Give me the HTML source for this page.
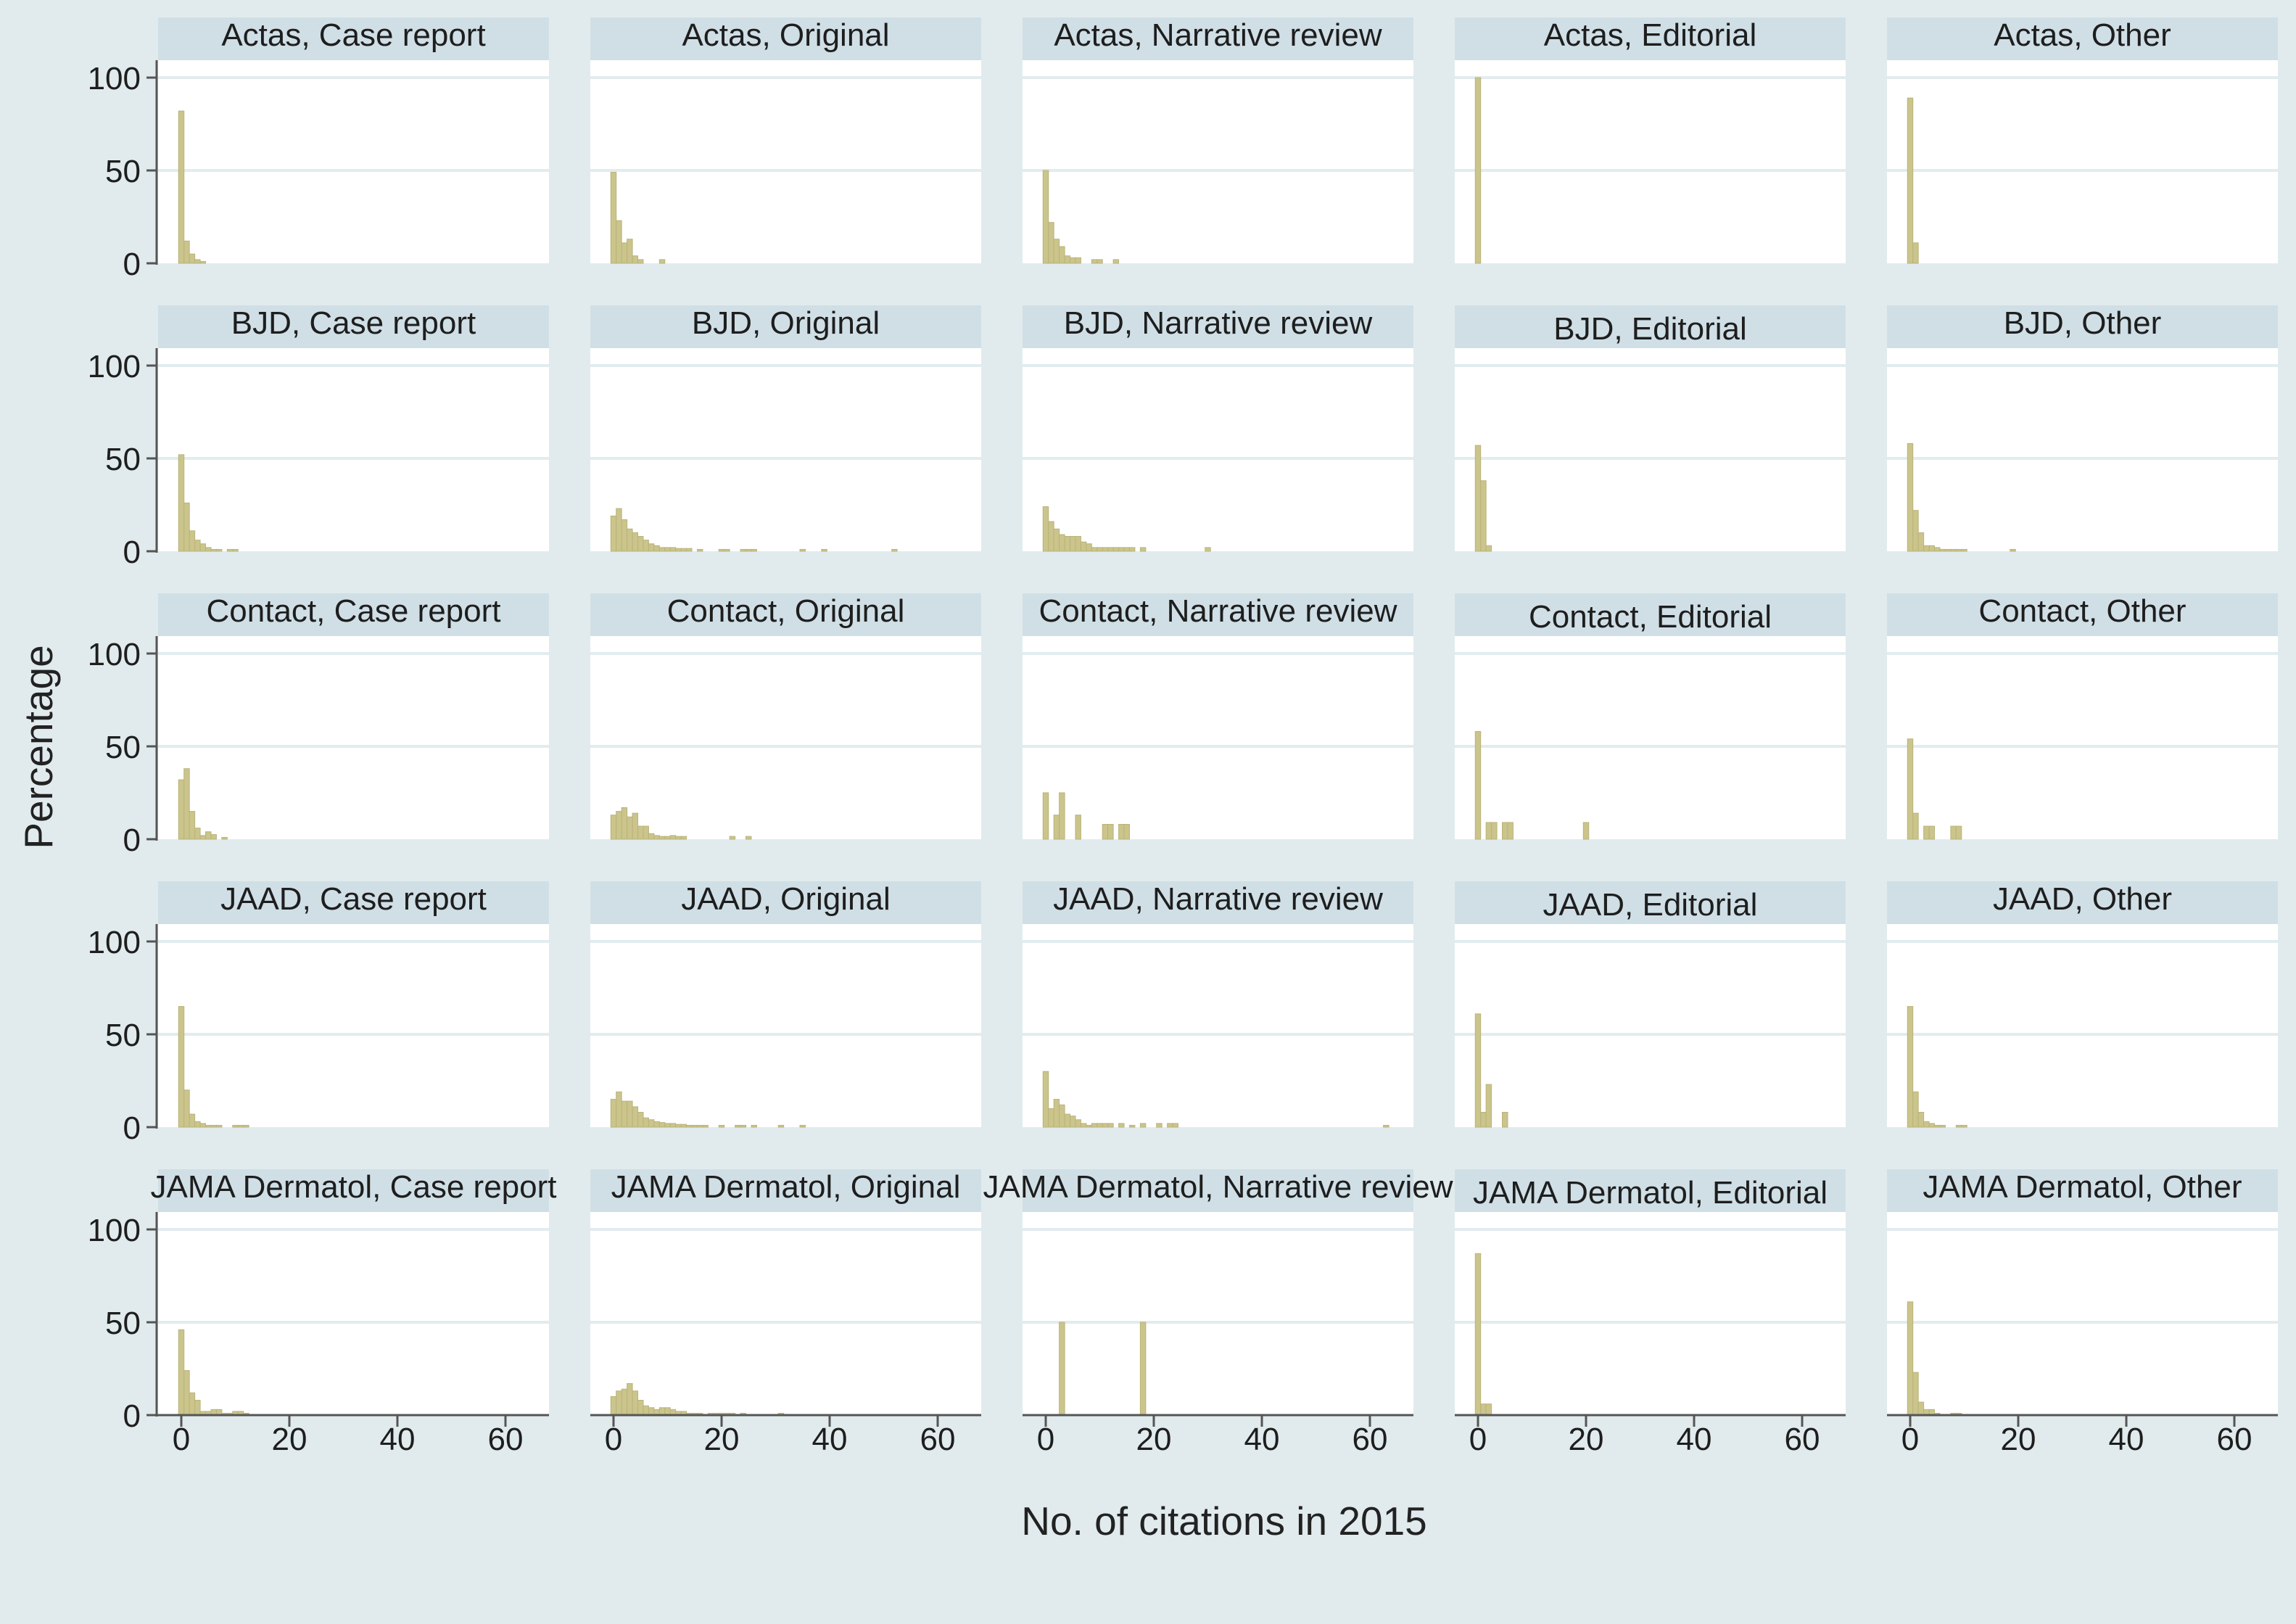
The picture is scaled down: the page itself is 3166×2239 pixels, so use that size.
<!DOCTYPE html>
<html><head><meta charset="utf-8">
<style>
html,body{margin:0;padding:0;background:#e1ebed;}
svg{display:block;font-family:"Liberation Sans",sans-serif;}
</style></head>
<body>
<svg id="chart" width="3166" height="2239" viewBox="0 0 3166 2239" xmlns="http://www.w3.org/2000/svg">
<rect x="0" y="0" width="3166" height="2239" fill="#e1ebed"/>
<text x="1688" y="2116" font-size="55" text-anchor="middle" fill="#222">No. of citations in 2015</text>
<text x="0" y="0" font-size="55" text-anchor="middle" fill="#222" transform="translate(72,1030) rotate(-90)">Percentage</text>
</svg>
<script>
const journals = ["Actas","BJD","Contact","JAAD","JAMA Dermatol"];
const types = ["Case report","Original","Narrative review","Editorial","Other"];
const yTicks = [0,50,100];
const xTicks = [0,20,40,60];
// percentages per citation count (index = no. of citations)
const actasCase = [82,12,5,2,1];
const actasOrig = [49,23,11,13,4,2,0,0,0,2];
const actasNarr = [50,22,13,9,4,3,3,0,0,2,2,0,0,2];
const actasEdit = [100];
const actasOther = [89,11];
const bjdCase = [52,26,11,6,4,2,1,1,0,1,1];
const bjdOrig = [19,23,17,12,10,8,6,4,3,2,2,2,1.5,1.5,1.5,0,1,0,0,0,1,1,0,0,1,1,1,0,0,0,0,0,0,0,0,1,0,0,0,1,0,0,0,0,0,0,0,0,0,0,0,0,1];
const bjdNarr = [24,16,12,9,8,8,8,5,4,2,2,2,2,2,2,2,2,0,2,0,0,0,0,0,0,0,0,0,0,0,2];
const bjdEdit = [57,38,3];
const bjdOther = [58,22,10,3,3,2,1,1,1,1,1,0,0,0,0,0,0,0,0,1];
const contactCase = [32,38,15,6,2,4,2.5,0,1];
const contactOrig = [13,15,17,12,14,7,7,3,2,1.5,1.5,2,1.5,1.5,0,0,0,0,0,0,0,0,1.5,0,0,1.5];
const contactNarr = [25,0,13,25,0,0,13,0,0,0,0,8,8,0,8,8];
const contactEdit = [58,0,9,9,0,9,9,0,0,0,0,0,0,0,0,0,0,0,0,0,9];
const contactOther = [54,14,0,7,7,0,0,0,7,7];
const jaadCase = [65,20,7,3,2,1,1,1,0,0,1,1,1];
const jaadOrig = [15,19,14,14,11,8,5,4,3,2.5,2,2,1.5,1.5,1,1,1,1,0,0,1,0,0,1,1,0,1,0,0,0,0,1,0,0,0,1];
const jaadNarr = [30,10,15,12,7,6,4,2,1,2,2,2,2,0,2,0,1,0,2,0,0,2,0,2,2,0,0,0,0,0,0,0,0,0,0,0,0,0,0,0,0,0,0,0,0,0,0,0,0,0,0,0,0,0,0,0,0,0,0,0,0,0,0,1];
const jaadEdit = [61,8,23,0,0,8];
const jaadOther = [65,19,8,3,2,1,1,0,0,1,1];
const jamaCase = [46,24,12,8,2,2,3,3,1,1,2,2,1];
const jamaOrig = [10,13,14,17,13,8,5,4,3,4,4,3,2,2,1,1,1,0,1,1,1,1,1,0,1,0,0,0,0,0,0,1];
const jamaNarr = [0,0,0,50,0,0,0,0,0,0,0,0,0,0,0,0,0,0,50];
const jamaEdit = [87,6,6];
const jamaOther = [61,23,7,3,3,1,0,0,1,1];
const panelData = [
  [actasCase,actasOrig,actasNarr,actasEdit,actasOther],
  [bjdCase,bjdOrig,bjdNarr,bjdEdit,bjdOther],
  [contactCase,contactOrig,contactNarr,contactEdit,contactOther],
  [jaadCase,jaadOrig,jaadNarr,jaadEdit,jaadOther],
  [jamaCase,jamaOrig,jamaNarr,jamaEdit,jamaOther]
];

const NS = "http://www.w3.org/2000/svg";
const svg = document.getElementById('chart');
const colLeft = c => 218 + c*596;
const W = 539;
const stripTop = r => 24 + r*397;
const zeroY = r => stripTop(r) + 339;
const yScale = (r,v) => zeroY(r) - v*2.56;
const xScale = (c,u) => colLeft(c) + 32 + u*7.45;
function mk(tag, attrs, parent){
  const e = document.createElementNS(NS, tag);
  for (const k in attrs) e.setAttribute(k, attrs[k]);
  (parent||svg).appendChild(e);
  return e;
}
for (let r=0;r<5;r++){
  for (let c=0;c<5;c++){
    const g = mk('g',{});
    
    
    const L = colLeft(c), T = stripTop(r);
    const strip = mk('rect',{x:L,y:T,width:W,height:59,fill:'#d0dfe6'},g);
    
    
    const plot = mk('rect',{x:L,y:T+59,width:W,height:zeroY(r)-T-59,fill:'#ffffff'},g);
    
    
    const off = (c===3 && r>0) ? 8 : 0;
    const t = mk('text',{x:L+W/2,y:T+39+off,'font-size':44,'text-anchor':'middle',fill:'#1e1e1e'},g);
    t.textContent = journals[r] + ', ' + types[c];
    
    
    [50,100].forEach(v=>{
      const gl = mk('line',{x1:L,x2:L+W,y1:yScale(r,v),y2:yScale(r,v),stroke:'#e2ecef','stroke-width':4},g);
      
      
    });
    const vals = panelData[r][c];
    vals.forEach((v,i)=>{
      if (v<=0) return;
      const x0 = xScale(c,i-0.5), x1 = xScale(c,i+0.5);
      const b = mk('rect',{x:x0,y:yScale(r,v),width:x1-x0,height:zeroY(r)-yScale(r,v),fill:'#cbc58c',stroke:'#b9b37a','stroke-width':1},g);
      
      
    });
    if (c===0){
      const ax = mk('line',{x1:216,x2:216,y1:T+59,y2:zeroY(r)+2,stroke:'#555','stroke-width':3},g);
      
      
      yTicks.forEach(v=>{
        const tk = mk('line',{x1:202,x2:216,y1:yScale(r,v),y2:yScale(r,v),stroke:'#555','stroke-width':3},g);
        
        
        const lb = mk('text',{x:194,y:yScale(r,v)+16,'font-size':44,'text-anchor':'end',fill:'#1e1e1e'},g);
        lb.textContent = v;
        
        
      });
    }
    if (r===4){
      const xa = mk('line',{x1:(c===0?202:L),x2:L+W,y1:zeroY(r),y2:zeroY(r),stroke:'#555','stroke-width':3},g);
      
      
      xTicks.forEach(u=>{
        const tk = mk('line',{x1:xScale(c,u),x2:xScale(c,u),y1:zeroY(r),y2:zeroY(r)+16,stroke:'#555','stroke-width':3},g);
        
        
        const lb = mk('text',{x:xScale(c,u),y:zeroY(r)+48,'font-size':44,'text-anchor':'middle',fill:'#1e1e1e'},g);
        lb.textContent = u;
        
        
      });
    }
  }
}
</script>
</body></html>
